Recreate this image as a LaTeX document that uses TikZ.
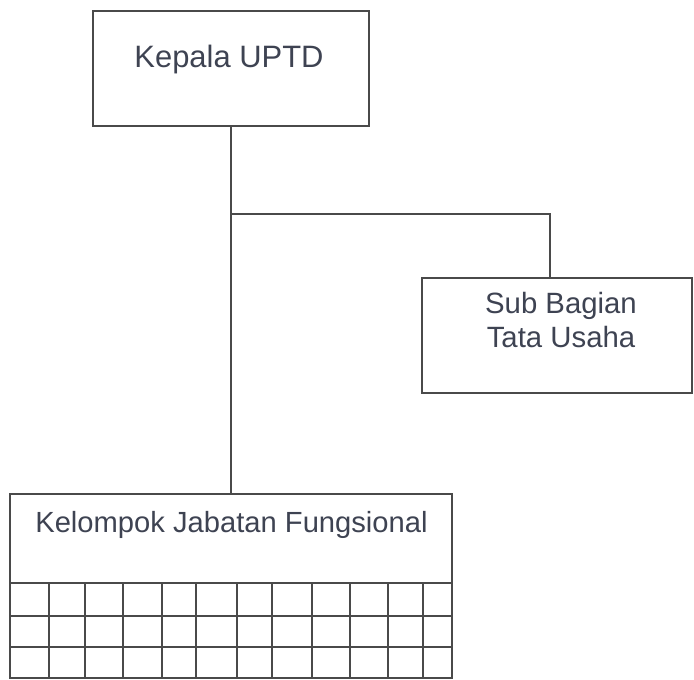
\documentclass[tikz,border=0pt]{standalone}
\usepackage{fontspec}
\setmainfont{Liberation Sans}
\definecolor{inkline}{HTML}{4A4A4A}
\definecolor{inktext}{HTML}{3E4352}

\begin{document}
\begin{tikzpicture}[x=0.02cm, y=-0.02cm,
    unit/.style={draw=inkline, line width=1.1pt, inner sep=0pt},
    lbl/.style={text=inktext, inner sep=0pt, align=center},
    conn/.style={draw=inkline, line width=1.1pt}]
  \useasboundingbox (0,0) rectangle (694,680);

  \node[unit, minimum width=5.52cm, minimum height=2.3cm] (kepala) at (231,68.5) {};
  \node[unit, minimum width=5.4cm, minimum height=2.3cm] (sub) at (557,335.5) {};
  \node[unit, minimum width=8.86cm, minimum height=3.68cm] (kelompok) at (231,586) {};

  \node[lbl, anchor=base, font=\fontsize{17.6}{20}\selectfont] (kepalatxt) at (229,67) {Kepala UPTD};
  \node[lbl, font=\fontsize{16.7}{18.8}\selectfont] (subtxt) at (561,320) {Sub Bagian\\Tata Usaha};
  \node[lbl, anchor=base, font=\fontsize{16.6}{19}\selectfont] (kelompoktxt) at (231.5,532) {Kelompok Jabatan Fungsional};

  % garis komando
  \coordinate (split) at (231,214);
  \draw[conn] (kepala.south) -- (kelompok.north);
  \draw[conn] (split) -| ([xshift=-0.14cm]sub.north);

  % tabel jabatan fungsional
  \foreach \gy in {583,616,647}
    \draw[conn] (9.5,\gy) -- (452.5,\gy);
  \foreach \gx in {49,85,123,162,196,237,272,312,350,388,423}
    \draw[conn] (\gx,583) -- (\gx,678);
\end{tikzpicture}
\end{document}
